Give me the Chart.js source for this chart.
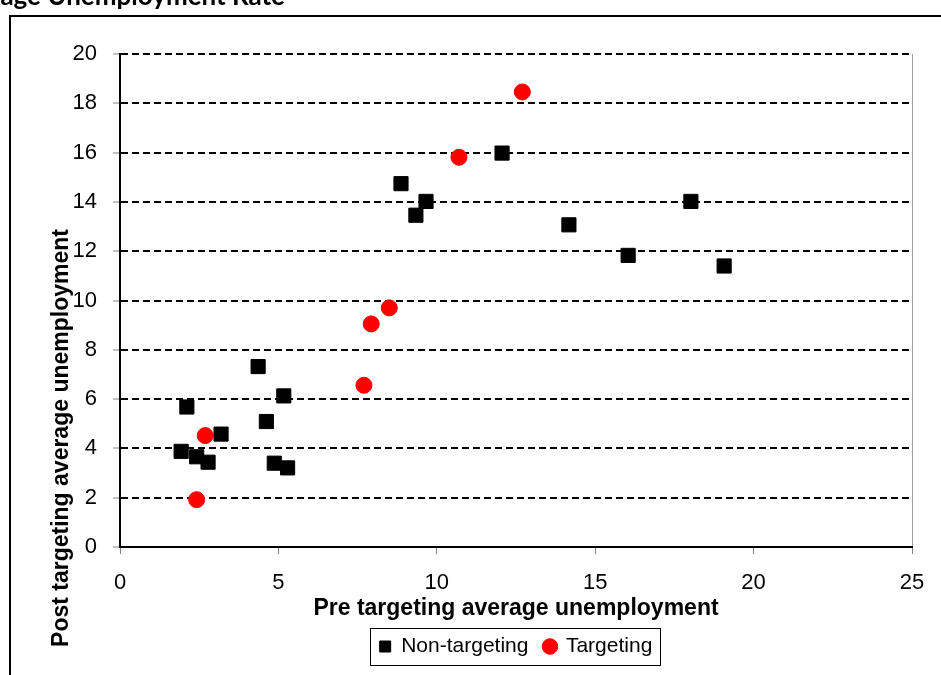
<!DOCTYPE html>
<html>
<head>
<meta charset="utf-8">
<style>
  html, body { margin: 0; padding: 0; background: #fff; }
  #wrap { width: 941px; height: 675px; position: relative; }
</style>
<script src="https://cdn.jsdelivr.net/npm/chart.js@4/dist/chart.umd.min.js"></script>
</head>
<body>
<div id="wrap"><canvas id="scatterChart" width="941" height="675"></canvas></div>
<script>
// Dados (desemprego médio antes x depois)
const nonTargetingX = [1.93, 2.11, 2.42, 2.78, 3.19, 4.36, 4.62, 4.87, 5.17, 5.29, 8.87, 9.34, 9.66, 12.06, 14.17, 16.04, 18.02, 19.07];
const nonTargetingY = [3.88, 5.68, 3.66, 3.44, 4.58, 7.32, 5.09, 3.40, 6.13, 3.21, 14.74, 13.46, 14.02, 15.98, 13.07, 11.83, 14.02, 11.40];
const targetingX = [2.42, 2.69, 7.70, 7.93, 8.50, 10.70, 12.70];
const targetingY = [1.92, 4.52, 6.56, 9.05, 9.70, 15.81, 18.46];

const seriesNames = ['Non-targeting', 'Targeting'];
const xTicks = [0, 5, 10, 15, 20, 25];
const yTicks = [0, 2, 4, 6, 8, 10, 12, 14, 16, 18, 20];

const chartTitle = 'Average Unemployment Rate';
const xTitle = 'Pre targeting average unemployment';
const yTitle = 'Post targeting average unemployment';

const toPoints = (xs, ys) => xs.map((x, i) => ({ x: x, y: ys[i] }));

const FONT = "'Liberation Sans', Arial, sans-serif";

// moldura, título cortado, título do eixo Y e caixa da legenda
const extras = {
    id: 'extras',
    beforeDraw(chart) {
        const c = chart.ctx;
        c.save();
        c.fillStyle = '#fff';
        c.fillRect(0, 0, chart.width, chart.height);
        c.strokeStyle = '#000';
        c.lineWidth = 2;
        c.beginPath();
        c.moveTo(10, chart.height);
        c.lineTo(10, 16);
        c.lineTo(chart.width, 16);
        c.stroke();
        c.fillStyle = '#000';
        c.font = "bold 26px Lato, 'Open Sans', sans-serif";
        c.textAlign = 'right';
        c.textBaseline = 'alphabetic';
        c.fillText(chartTitle, 285, 5);
        c.restore();
    },
    afterDraw(chart) {
        const c = chart.ctx;
        c.save();
        c.fillStyle = '#000';
        c.font = 'bold 23px ' + FONT;
        c.translate(62, 438);
        c.rotate(-Math.PI / 2);
        c.textAlign = 'center';
        c.textBaseline = 'middle';
        c.fillText(yTitle, 0, 0);
        c.restore();

        const boxes = chart.legend.legendHitBoxes;
        if (boxes && boxes.length) {
            const first = boxes[0], last = boxes[boxes.length - 1];
            const l = first.left - 10;
            const r = last.left + last.width + 7;
            const t = first.top - 8;
            const b = first.top + first.height + 8;
            c.save();
            c.strokeStyle = '#000';
            c.lineWidth = 1;
            c.strokeRect(Math.round(l) + 0.5, Math.round(t) + 0.5, Math.round(r - l), Math.round(b - t));
            c.restore();
        }
    }
};

new Chart(document.getElementById('scatterChart'), {
    type: 'scatter',
    data: {
        datasets: [{
            label: seriesNames[0],
            data: toPoints(nonTargetingX, nonTargetingY),
            pointStyle: 'rect',
            pointRadius: 10,
            backgroundColor: '#000',
            borderColor: '#000',
            borderWidth: 1
        }, {
            label: seriesNames[1],
            data: toPoints(targetingX, targetingY),
            pointStyle: 'circle',
            pointRadius: 8,
            backgroundColor: '#ff0000',
            borderColor: '#ff0000',
            borderWidth: 1
        }]
    },
    options: {
        responsive: false,
        animation: false,
        layout: { padding: { left: 0, right: 29, top: 54, bottom: 8 } },
        plugins: {
            title: { display: false },
            tooltip: { enabled: false },
            legend: {
                position: 'bottom',
                fullSize: false,
                labels: {
                    usePointStyle: true,
                    boxHeight: 11,
                    boxWidth: 11,
                    padding: 16,
                    color: '#000',
                    font: { family: FONT, size: 21 }
                }
            }
        },
        scales: {
            x: {
                type: 'linear',
                min: 0,
                max: 25,
                afterBuildTicks: (s) => { s.ticks = xTicks.map(v => ({ value: v })); },
                afterFit: (s) => { s.height = 73; },
                ticks: { color: '#000', padding: 16, font: { family: FONT, size: 22 } },
                grid: {
                    color: (ctx) => ctx.tick && ctx.tick.value === 25 ? '#a0a0a0' : 'rgba(0,0,0,0)',
                    lineWidth: 1,
                    tickColor: '#808080',
                    tickLength: 7
                },
                border: { color: '#000', width: 2 },
                title: {
                    display: true,
                    text: xTitle,
                    color: '#000',
                    padding: { top: 0, bottom: 0 },
                    font: { family: FONT, size: 23, weight: 'bold', lineHeight: 1 }
                }
            },
            y: {
                type: 'linear',
                min: 0,
                max: 20,
                afterBuildTicks: (s) => { s.ticks = yTicks.map(v => ({ value: v })); },
                afterFit: (s) => { s.width = 120; },
                ticks: { color: '#000', padding: 16, font: { family: FONT, size: 22 } },
                grid: {
                    color: '#000',
                    lineWidth: 2,
                    tickColor: '#808080',
                    tickWidth: 1,
                    tickLength: 7
                },
                border: { color: '#000', width: 2, dash: [7, 4] },
                title: { display: false }
            }
        }
    },
    plugins: [extras]
});
</script>
</body>
</html>
